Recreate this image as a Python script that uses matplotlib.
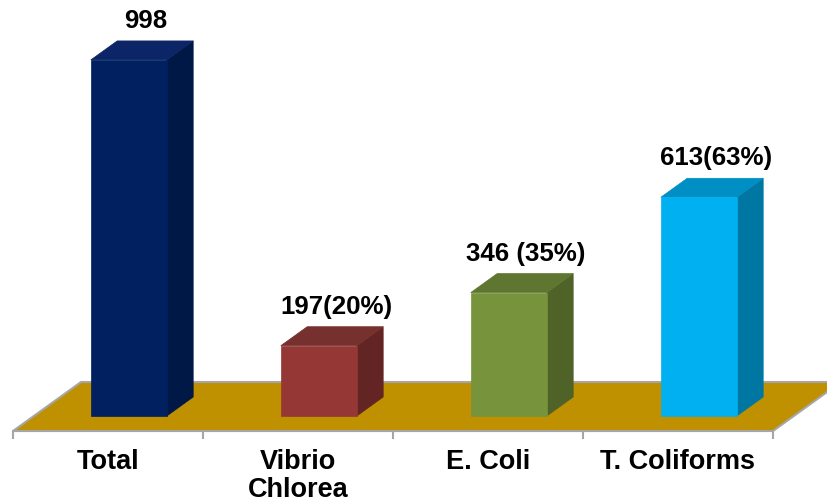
import matplotlib.pyplot as plt
from matplotlib.patches import Polygon

plt.rcParams['font.family'] = ['Liberation Sans', 'DejaVu Sans']

# ── data ──────────────────────────────────────────────────────────────
categories = ['Total', 'Vibrio\nChlorea', 'E. Coli', 'T. Coliforms']
counts     = [998, 197, 346, 613]
bar_labels = ['998', '197(20%)', '346 (35%)', '613(63%)']

front_colors = ['#002060', '#953735', '#77933C', '#00B0F0']
side_colors  = ['#001845', '#632523', '#4F6228', '#0077A3']
top_colors   = ['#0B2566', '#76302E', '#5F7630', '#008FC4']

# ── figure / axes ─────────────────────────────────────────────────────
W, H, DPI = 828, 504, 100
fig = plt.figure(figsize=(W / DPI, H / DPI), dpi=DPI)
ax = fig.add_axes([13 / W, 73 / H, 760 / W, 431 / H])

YMAX = 1208
ax.set_xlim(-0.5, len(categories) - 0.5)
ax.set_ylim(0, YMAX)

# pixel -> data conversions for the fake 3D depth
px_x = 760 / len(categories)
px_y = 431 / YMAX
DX = 68 / px_x          # floor depth, x shift
DY = 49 / px_y          # floor depth, y shift
d0, d1 = 15 / 49, 34 / 49   # bar depth range inside floor
half = 38 / px_x            # half bar width


def P(x, y, d):
    return (x + d * DX, y + d * DY)


# floor
x0, x1 = -0.5, len(categories) - 0.5
floor = Polygon([P(x0, 0, 0), P(x1, 0, 0), P(x1, 0, 1), P(x0, 0, 1)],
                closed=True, facecolor='#BF9000', edgecolor='#A6A6A6',
                linewidth=1.5, clip_on=False, zorder=1)
ax.add_patch(floor)

# bars
for i, v in enumerate(counts):
    l, r = i - half, i + half
    front = [P(l, 0, d0), P(r, 0, d0), P(r, v, d0), P(l, v, d0)]
    side  = [P(r, 0, d0), P(r, 0, d1), P(r, v, d1), P(r, v, d0)]
    top   = [P(l, v, d0), P(r, v, d0), P(r, v, d1), P(l, v, d1)]
    for pts, c in [(side, side_colors[i]), (top, top_colors[i]),
                   (front, front_colors[i])]:
        ax.add_patch(Polygon(pts, closed=True, facecolor=c, edgecolor=c,
                             linewidth=0.5, clip_on=False, zorder=3))
    lx, ly = P(i + 4 / px_x, v, 0.5 * (d0 + d1))
    ax.text(lx, v + d1 * DY + 13 / px_y, bar_labels[i],
            ha='center', va='baseline', fontsize=18.6, fontweight='bold',
            color='black', zorder=4)

# axis styling
for s in ['top', 'left', 'right']:
    ax.spines[s].set_visible(False)
ax.spines['bottom'].set_color('#A6A6A6')
ax.spines['bottom'].set_linewidth(1.5)
ax.spines['bottom'].set_zorder(2)

ax.set_yticks([])
ax.set_xticks(range(len(categories)))
ax.set_xticklabels(categories, fontsize=19.5, fontweight='bold',
                   linespacing=1.1)
ax.set_xticks([k - 0.5 for k in range(len(categories) + 1)], minor=True)
ax.tick_params(axis='x', which='major', length=0, pad=13)
ax.tick_params(axis='x', which='minor', length=6, width=1.5,
               color='#A6A6A6', direction='out')
ax.patch.set_alpha(0)

fig.savefig('out.png', dpi=DPI)
